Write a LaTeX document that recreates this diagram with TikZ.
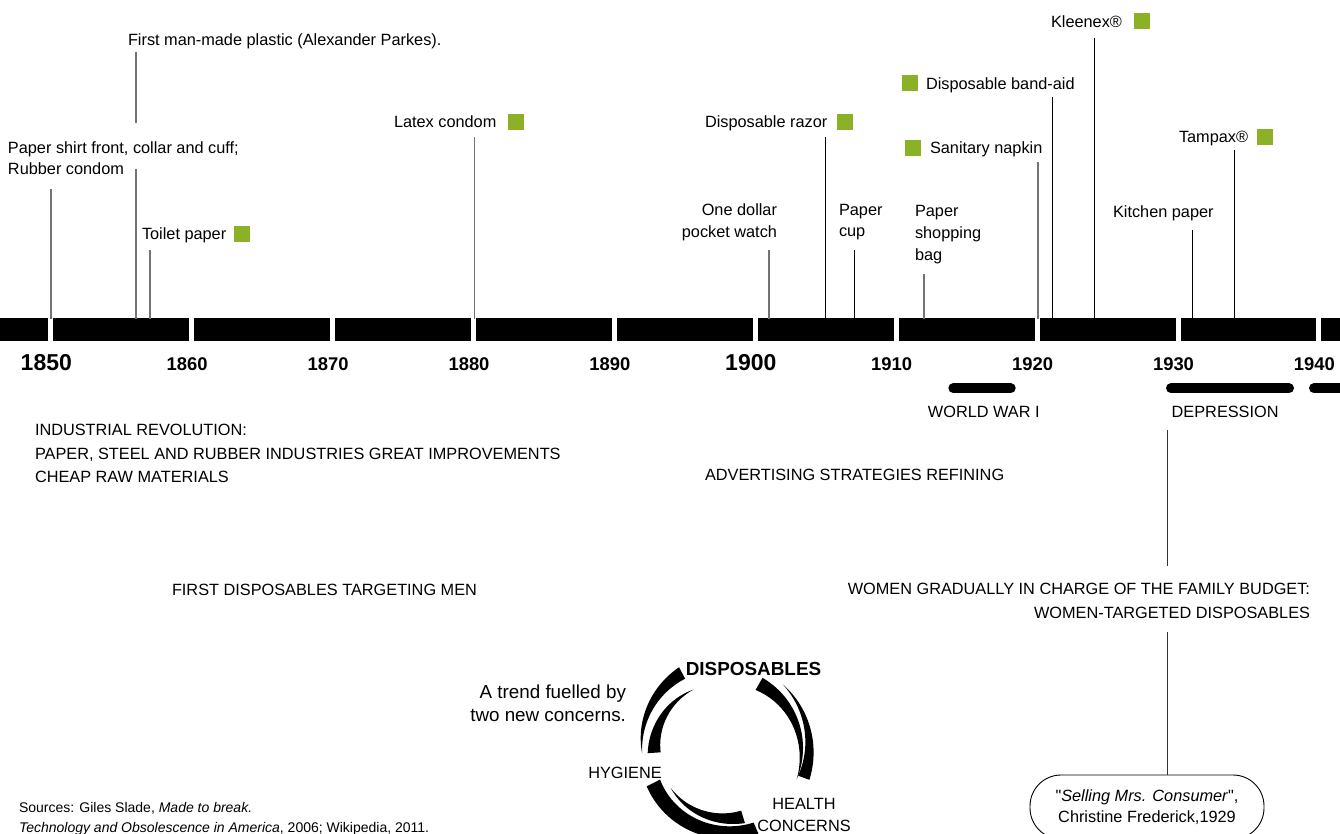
\documentclass[tikz,border=0pt]{standalone}
\usepackage{fontspec}
\setmainfont{Liberation Sans}
\newfontfamily\plainq{Liberation Sans}[Ligatures=TeXOff]
\usetikzlibrary{calc}
\definecolor{grn}{RGB}{139,177,38}
\definecolor{lgray}{RGB}{115,115,115}
\newcommand\swoosh[6]{%
\fill plot[domain=#1:#2,samples=60,variable=\q]
 ({722+((#3)+((#4)-(#3))*((\q)-(#1))/((#2)-(#1))+0.5*((#5)+((#6)-(#5))*((\q)-(#1))/((#2)-(#1))))*cos(\q)},
  {748-((#3)+((#4)-(#3))*((\q)-(#1))/((#2)-(#1))+0.5*((#5)+((#6)-(#5))*((\q)-(#1))/((#2)-(#1))))*sin(\q)})
 -- plot[domain=#2:#1,samples=60,variable=\q]
 ({722+((#3)+((#4)-(#3))*((\q)-(#1))/((#2)-(#1))-0.5*((#5)+((#6)-(#5))*((\q)-(#1))/((#2)-(#1))))*cos(\q)},
  {748-((#3)+((#4)-(#3))*((\q)-(#1))/((#2)-(#1))-0.5*((#5)+((#6)-(#5))*((\q)-(#1))/((#2)-(#1))))*sin(\q)})
 -- cycle;}
\begin{document}
\begin{tikzpicture}[x=1pt,y=-1pt,
  every node/.style={inner sep=0pt,outer sep=0pt},
  lbl/.style={font=\fontsize{16.3}{21.7}\selectfont},
  yrsmall/.style={font=\fontsize{18.4}{20}\selectfont\bfseries,anchor=base},
  yrbig/.style={font=\fontsize{23}{25}\selectfont\bfseries,anchor=base},
  sq/.style={fill=grn,minimum width=16pt,minimum height=16pt,anchor=north west},
  evg/.style={draw=lgray,line width=1.2pt},
  evk/.style={draw=black,line width=1pt},
  warbar/.style={line width=10pt,line cap=round},
]
\clip (0,0) rectangle (1340,834);
\fill[white] (0,0) rectangle (1340,834);

% timeline bar
\foreach \k in {-1,...,9}
  \fill ({50.8+140.9*\k+2.5},318) rectangle ({50.8+140.9*(\k+1)-2.5},341);
\foreach \k/\yr in {0/1850,5/1900}
  \node[yrbig] (y\yr) at ({50.8+140.9*\k-4.5},370) {\yr};
\foreach \k/\yr in {1/1860,2/1870,3/1880,4/1890,6/1910,7/1920,8/1930,9/1940}
  \node[yrsmall] (y\yr) at ({50.8+140.9*\k-4.5},370) {\yr};

% event labels
\node[lbl,anchor=base west] (plastic) at (128,46) {First man-made plastic (Alexander Parkes).};
\node[lbl,anchor=north west,align=left] (shirt) at (8,141.3) {Paper shirt front, collar and cuff;\\Rubber condom};
\node[lbl,anchor=base west] (toilet) at (142,240) {Toilet paper};
\node[sq] (sqtoilet) at (234,226.5) {};
\node[lbl,anchor=base west] (latex) at (394,127.3) {Latex condom};
\node[sq] (sqlatex) at (508,114) {};
\node[lbl,anchor=base west] (razor) at (705,127.3) {Disposable razor};
\node[sq] (sqrazor) at (837,114) {};
\node[lbl,anchor=north east,align=right] (watch) at (777,204) {One dollar\\pocket watch};
\node[lbl,anchor=north west,align=left] (cup) at (839,204) {Paper\\cup};
\node[lbl,anchor=north west,align=left,font=\fontsize{16.3}{22}\selectfont] (bag) at (915,205) {Paper\\shopping\\bag};
\node[sq] (sqband) at (902,75) {};
\node[lbl,anchor=base west] (band) at (926,90) {Disposable band-aid};
\node[sq] (sqsan) at (905,140) {};
\node[lbl,anchor=base west] (sanitary) at (930,153.3) {Sanitary napkin};
\node[lbl,anchor=base west] (kleenex) at (1051,27.3) {Kleenex®};
\node[sq] (sqkleenex) at (1134,13) {};
\node[lbl,anchor=base west] (kitchen) at (1113,217.3) {Kitchen paper};
\node[lbl,anchor=base west] (tampax) at (1179,142.3) {Tampax®};
\node[sq] (sqtampax) at (1257,129) {};

% event lines
\foreach \n/\x/\t in {shirt/51/189,plasticB/136/169,toilet/150/250,latex/474.5/137,watch/769/250,bag/924/274,sanitary/1038/162}{
  \coordinate (t\n) at (\x,\t);
  \coordinate (b\n) at (\x,319);
  \draw[evg] (t\n) -- (b\n);
}
\coordinate (tplasticA) at (136,52);
\coordinate (bplasticA) at (136,123);
\draw[evg] (tplasticA) -- (bplasticA);
\foreach \n/\x/\t in {razor/825.5/137,cup/854.5/250,band/1052.5/97,kleenex/1094.5/38,kitchen/1192.5/230,tampax/1234.5/150}{
  \coordinate (t\n) at (\x,\t);
  \coordinate (b\n) at (\x,319);
  \draw[evk] (t\n) -- (b\n);
}

% periods
\coordinate (ww1a) at (953.3,388.3);
\coordinate (ww1b) at (1010.7,388.3);
\draw[warbar] (ww1a) -- (ww1b);
\node[lbl,anchor=base] (ww1) at (983.8,417.7) {WORLD WAR I};
\coordinate (depa) at (1171,388.3);
\coordinate (depb) at (1289,388.3);
\draw[warbar] (depa) -- (depb);
\coordinate (ww2a) at (1314,388.3);
\coordinate (ww2b) at (1370,388.3);
\draw[warbar] (ww2a) -- (ww2b);
\node[lbl,anchor=base west] (dep) at (1171.7,417.7) {DEPRESSION};

% text blocks
\node[font=\fontsize{16.3}{23.5}\selectfont,anchor=north west,align=left] (indus) at (35,424.3)
  {INDUSTRIAL REVOLUTION:\\PAPER, STEEL AND RUBBER INDUSTRIES GREAT IMPROVEMENTS\\CHEAP RAW MATERIALS};
\node[lbl,anchor=base west] (adv) at (705,480) {ADVERTISING STRATEGIES REFINING};
\node[lbl,anchor=base west] (men) at (172,595) {FIRST DISPOSABLES TARGETING MEN};
\node[font=\fontsize{16.3}{24}\selectfont,anchor=north east,align=right] (women) at (1310,583.3)
  {WOMEN GRADUALLY IN CHARGE OF THE FAMILY BUDGET:\\WOMEN-TARGETED DISPOSABLES};

% quote
\node[lbl,draw,line width=0.9pt,rounded corners=31pt,minimum width=234pt,minimum height=64pt,align=center] (quote) at (1147,807)
  {{\plainq"}\textit{Selling Mrs. Consumer}{\plainq"},\\Christine Frederick,1929};
\coordinate (v1a) at (1167,430);
\coordinate (v1b) at (1167,566);
\coordinate (v2a) at (1167,632);
\draw[draw=black!80,line width=1pt] (v1a) -- (v1b);
\draw[draw=black!80,line width=1pt] (v2a) -- (v2a |- quote.north);

% cycle
\swoosh{118}{184}{85}{80}{13}{0}
\swoosh{116}{184}{65}{68}{0}{13}
\swoosh{60}{-23}{74}{81}{14}{0}
\swoosh{46}{-20}{88}{87}{0}{12}
\swoosh{207}{293}{77}{87}{15}{12}
\swoosh{218}{287}{65}{72}{0}{13}
\node[font=\fontsize{18.9}{20}\selectfont\bfseries,anchor=base] (disp) at (753.5,675) {DISPOSABLES};
\node[lbl,anchor=base] (hyg) at (625,778) {HYGIENE};
\node[lbl,anchor=north,align=center] (health) at (804,798.3) {HEALTH\\CONCERNS};
\node[font=\fontsize{18.8}{22.5}\selectfont,anchor=north east,align=right] (trend) at (626,685.3)
  {A trend fuelled by\\two new concerns.};

% sources
\node[font=\fontsize{14}{20}\selectfont,anchor=north west,align=left] (src) at (19,802.7)
  {Sources: Giles Slade, \textit{Made to break.}\\\textit{Technology and Obsolescence in America}, 2006; Wikipedia, 2011.};
\end{tikzpicture}
\end{document}
